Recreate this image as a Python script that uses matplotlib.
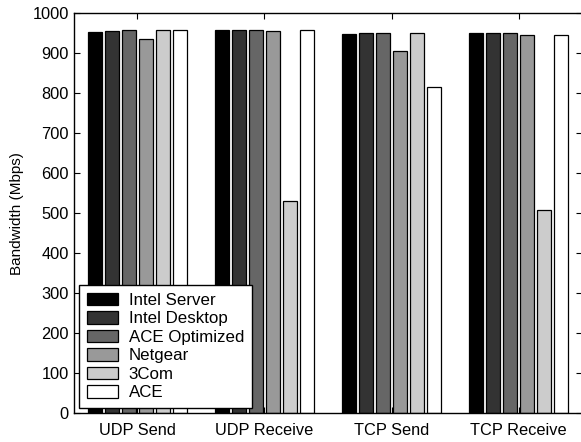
import matplotlib
matplotlib.use("Agg")
import matplotlib.pyplot as plt
import numpy as np

plt.rcParams['font.family'] = ['Liberation Sans', 'DejaVu Sans']

# Benchmark groups and NIC configurations
groups = ["UDP Send", "UDP Receive", "TCP Send", "TCP Receive"]
series = ["Intel Server", "Intel Desktop", "ACE Optimized", "Netgear", "3Com", "ACE"]

# Bandwidth in Mbps, one list per configuration (in group order)
intel_server = [954, 958, 948, 950]
intel_desktop = [956, 958, 950, 950]
ace_optimized = [958, 958, 950, 950]
netgear = [935, 956, 906, 946]
three_com = [958, 531, 950, 508]
ace = [958, 957, 816, 945]

values = [intel_server, intel_desktop, ace_optimized, netgear, three_com, ace]
fills = ["#000000", "#333333", "#666666", "#999999", "#cccccc", "#ffffff"]

fig = plt.figure(figsize=(5.81, 4.42), dpi=100)
ax = fig.add_axes([73.7 / 581, (442 - 413) / 442, (582.2 - 73.7) / 581, (413 - 13.3) / 442])

x = np.arange(1, len(groups) + 1)
pitch = 0.134
width = 0.11
for i, (name, vals, col) in enumerate(zip(series, values, fills)):
    ax.bar(x + (i - 2.5) * pitch, vals, width, color=col, edgecolor="black",
           linewidth=0.9, label=name)

ax.set_xlim(0.5, 4.5)
ax.set_ylim(0, 1000)
ax.set_xticks(x)
ax.set_xticklabels(groups)
ax.set_yticks(np.arange(0, 1001, 100))
ax.tick_params(direction="in", length=4, width=0.8, labelsize=11.8,
               top=True, right=True)
ax.tick_params(axis="x", pad=7)
ax.set_ylabel("Bandwidth (Mbps)", fontsize=11, labelpad=6)
for s in ax.spines.values():
    s.set_linewidth(1.0)

leg = ax.legend(loc="lower left", bbox_to_anchor=(0.011, 0.0125), borderaxespad=0,
                fontsize=12.2, fancybox=False, framealpha=1, edgecolor="black",
                handlelength=1.85, handleheight=0.75, handletextpad=0.62,
                labelspacing=0.2, borderpad=0.45)
leg.get_frame().set_linewidth(1.0)

fig.savefig("out.png", dpi=100)
